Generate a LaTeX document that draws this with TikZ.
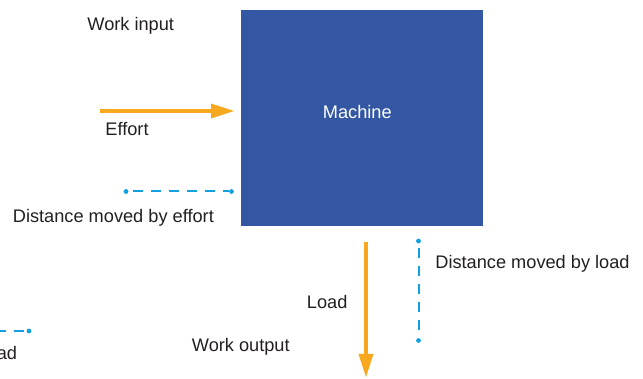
\documentclass[tikz,border=0pt]{standalone}
\usepackage{fontspec}
\setmainfont{Liberation Sans}
\usetikzlibrary{arrows.meta}
\definecolor{machineblue}{RGB}{52,87,164}
\definecolor{forceorange}{RGB}{247,168,30}
\definecolor{distblue}{RGB}{18,160,224}
\definecolor{textgray}{RGB}{35,31,32}
\begin{document}
\begin{tikzpicture}[x=0.5pt,y=-0.5pt,
        lbl/.style={text=textgray,font=\fontsize{9.1}{10.9}\selectfont,inner sep=0pt,anchor=base west},
        force/.style={line width=2.2pt,forceorange,-{Triangle[length=12pt,width=6.8pt]}},
        distline/.style={line width=1pt,distblue,dash pattern=on 5pt off 4pt,dash phase=7pt},
        enddot/.style={circle,fill=distblue,inner sep=0pt,minimum size=2.4pt}]
        \useasboundingbox (0,0) rectangle (643,379);

            %macchina
            \node[fill=machineblue,minimum width=121pt,minimum height=108pt,inner sep=0pt] (machine) at (362,118) {};
            \node[lbl,text=white] (machinetxt) at (322.5,118.3) {Machine};

            %lavoro in ingresso
            \node[lbl] (workin) at (87,31) {Work input};
            \coordinate (efforttail) at (100,111);
            \coordinate (efforttip) at (235,111);
            \draw[force] (efforttail) -- (efforttip);
            \node[lbl] (efforttxt) at (105,136) {Effort};

            \node[enddot] (ea) at (126,191.5) {};
            \node[enddot] (eb) at (231.5,191.5) {};
            \draw[distline] (ea) -- (eb);
            \node[lbl] (effortdist) at (12.5,223) {Distance moved by effort};

            %lavoro in uscita
            \coordinate (loadtail) at (366,242);
            \coordinate (loadtip) at (366,378);
            \draw[force] (loadtail) -- (loadtip);
            \node[lbl] (loadtxt) at (306.5,309) {Load};
            \node[lbl] (workout) at (191.5,351.5) {Work output};

            \node[enddot] (la) at (418.5,241) {};
            \node[enddot] (lb) at (418.5,340.5) {};
            \draw[distline] (la) -- (lb);
            \node[lbl] (loaddist) at (435,268.3) {Distance moved by load};

            %copia tagliata a sinistra
            \begin{scope}
            \clip (0,0) rectangle (643,379);
            \coordinate (cuttail) at (-40,331);
            \node[enddot] (ca) at (29,331) {};
            \draw[distline,dash phase=0pt] (cuttail) -- (ca);
            \node[lbl,anchor=base east] (cuttxt) at (17.5,360) {Distance moved by load};
            \end{scope}
        \end{tikzpicture}
\end{document}
